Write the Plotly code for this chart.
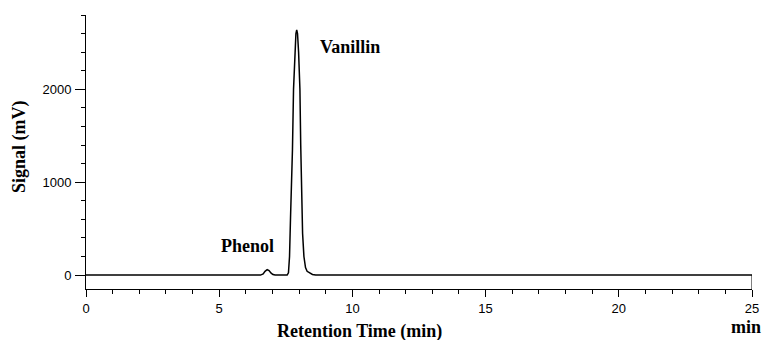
import plotly.graph_objects as go

# Chromatogram trace (retention time in min, signal in mV)
time_min = [0.0, 6.55, 6.65, 6.72, 6.8, 6.87, 6.95, 7.02, 7.1, 7.55, 7.6, 7.64, 7.68, 7.72, 7.75,
            7.79, 7.84, 7.88, 7.91, 7.94, 7.98, 8.03, 8.06, 8.09, 8.13, 8.18, 8.24, 8.3, 8.4,
            8.5, 8.62, 25.0]
signal_mv = [0, 0, 12, 40, 58, 48, 20, 5, 0, 0, 25, 200, 650, 1000, 1350,
             2000, 2450, 2600, 2640, 2600, 2400, 2000, 1400, 900, 450, 200, 80, 40, 18,
             6, 0, 0]

peak_names = ["Phenol", "Vanillin"]
peak_label_x = [6.05, 9.9]
peak_label_y = [312, 2452]

x_range = [0, 25]
y_range = [-150, 2800]
x_ticks = [0, 5, 10, 15, 20, 25]
y_ticks = [0, 1000, 2000]

serif = "Liberation Serif, Times New Roman, serif"
sans = "Liberation Sans, Arial, sans-serif"

fig = go.Figure()
fig.add_trace(go.Scatter(x=time_min, y=signal_mv, mode="lines",
                         line=dict(color="black", width=1.5), showlegend=False,
                         hoverinfo="skip"))

for name, lx, ly in zip(peak_names, peak_label_x, peak_label_y):
    fig.add_annotation(x=lx, y=ly, text=f"<b>{name}</b>", showarrow=False,
                       font=dict(family=serif, size=18, color="black"),
                       xanchor="center", yanchor="middle")

# right end connector between baseline and x axis
fig.add_shape(type="line", x0=x_range[1], x1=x_range[1], y0=y_range[0], y1=0,
              xref="x", yref="y", line=dict(color="black", width=1))

fig.add_annotation(xref="paper", yref="paper", x=0.41, y=-0.155,
                   text="<b>Retention Time (min)</b>", showarrow=False,
                   font=dict(family=serif, size=18, color="black"),
                   xanchor="center", yanchor="middle")
fig.add_annotation(xref="paper", yref="paper", x=1.0, y=-0.14,
                   text="<b>min</b>", showarrow=False,
                   font=dict(family=serif, size=18, color="black"),
                   xanchor="center", yanchor="middle", xshift=-6)
fig.add_annotation(xref="paper", yref="paper", x=-0.1, y=0.52,
                   text="<b>Signal (mV)</b>", showarrow=False, textangle=-90,
                   font=dict(family=serif, size=18, color="black"),
                   xanchor="center", yanchor="middle")

fig.update_layout(
    width=762, height=340,
    margin=dict(l=86, r=10, t=15, b=51, autoexpand=False),
    paper_bgcolor="white", plot_bgcolor="white",
    font=dict(family=sans, size=13, color="black"),
    xaxis=dict(range=x_range, tickvals=x_ticks, showgrid=False, zeroline=False,
               automargin=False,
               showline=True, linecolor="black", linewidth=1,
               ticks="outside", ticklen=7, tickcolor="black", tickwidth=1,
               minor=dict(dtick=1, ticks="outside", ticklen=4, tickcolor="black", showgrid=False),
               tickfont=dict(family=sans, size=13, color="black")),
    yaxis=dict(range=y_range, tickvals=y_ticks, showgrid=False, zeroline=False,
               automargin=False,
               showline=True, linecolor="black", linewidth=1,
               ticks="outside", ticklen=10, tickcolor="black", tickwidth=1,
               minor=dict(dtick=200, tick0=0, ticks="outside", ticklen=4, tickcolor="black", showgrid=False),
               tickfont=dict(family=sans, size=13, color="black"), ticklabelstandoff=1),
)

fig.write_html("out.html")
